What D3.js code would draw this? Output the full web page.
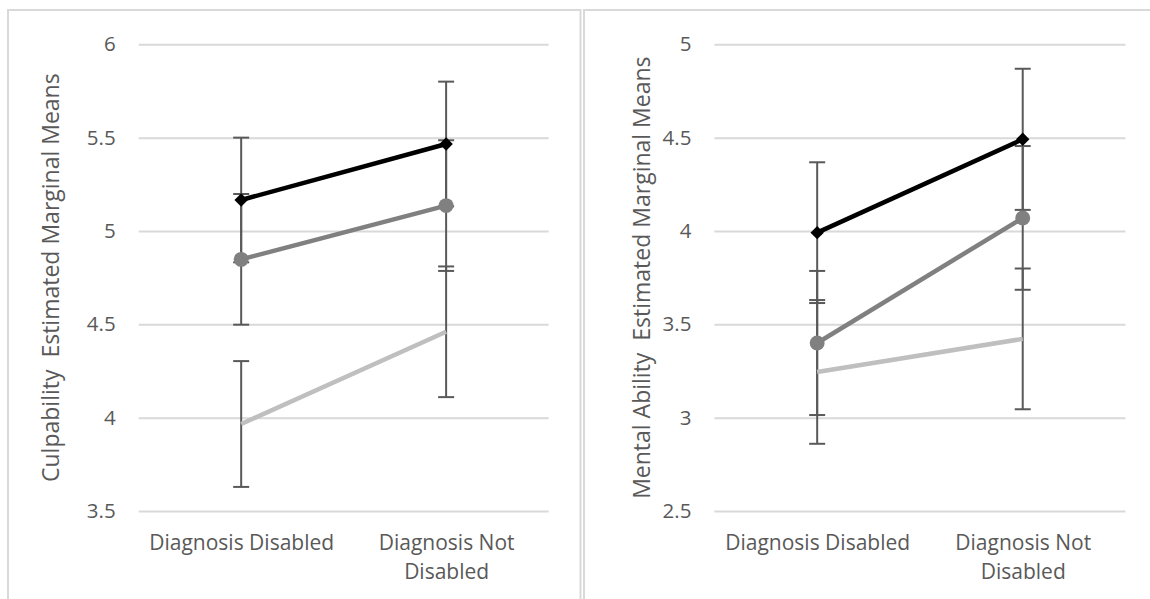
<!DOCTYPE html>
<html>
<head>
<meta charset="utf-8">
<script src="https://cdn.jsdelivr.net/npm/d3@7"></script>
<style>
  body { margin: 0; background: #fff; }
  text { font-family: "Open Sans", sans-serif; fill: #595959; }
</style>
</head>
<body>
<div id="chart"></div>
<script>
let categories = ["Diagnosis Disabled", "Diagnosis Not Disabled"];

// culpability panel
let culpTicks = [3.5, 4, 4.5, 5, 5.5, 6];
let culpBlack = [5.166, 5.466];
let culpBlackErr = [0.334, 0.334];
let culpGray = [4.848, 5.136];
let culpGrayErr = [0.35, 0.35];
let culpLight = [3.966, 4.46];
let culpLightErr = [0.337, 0.35];

// mental ability panel
let mentalTicks = [2.5, 3, 3.5, 4, 4.5, 5];
let mentalBlack = [3.991, 4.491];
let mentalBlackErr = [0.377, 0.378];
let mentalGray = [3.40, 4.07];
let mentalGrayErr = [0.386, 0.385];
let mentalLight = [3.245, 3.422];
let mentalLightErr = [0.385, 0.377];

let width = 1150;
let height = 599;

let svg = d3.select("#chart")
    .append("svg")
    .attr("width", width)
    .attr("height", height);

svg.append("rect").attr("width", width).attr("height", height).attr("fill", "#fff");

function drawPanel(p) {
    let g = svg.append("g");

    // panel border
    g.append("rect")
        .attr("x", p.boxX)
        .attr("y", 10)
        .attr("width", p.boxW)
        .attr("height", 700)
        .attr("fill", "none")
        .attr("stroke", "#d9d9d9")
        .attr("stroke-width", 2);

    let y = d3.scaleLinear()
        .domain(d3.extent(p.ticks))
        .range([511, 44.3]);

    let x = d3.scalePoint()
        .domain(categories)
        .range([p.left, p.right])
        .padding(0.5);

    let yAxis = g.append("g")
        .attr("transform", "translate(" + p.left + ",0)")
        .call(d3.axisLeft(y)
            .tickValues(p.ticks)
            .tickFormat(d3.format("~g"))
            .tickSize(-(p.right - p.left))
            .tickPadding(23));
    yAxis.select(".domain").remove();
    yAxis.selectAll(".tick line")
        .attr("stroke", "#d9d9d9")
        .attr("stroke-width", 2);
    yAxis.selectAll(".tick text")
        .style("font-size", "20.5px")
        .attr("fill", "#595959");

    let xAxis = g.append("g")
        .attr("transform", "translate(0,511)")
        .call(d3.axisBottom(x).tickSize(0).tickPadding(0));
    xAxis.select(".domain").remove();
    xAxis.selectAll(".tick text")
        .style("font-size", "21px")
        .attr("fill", "#595959")
        .each(function(d) {
            let t = d3.select(this);
            let words = d.split(" ");
            t.text(null);
            let line = [];
            let lines = [];
            let probe = t.append("tspan");
            words.forEach(function(w) {
                line.push(w);
                probe.text(line.join(" "));
                if (probe.node().getComputedTextLength() > 200 && line.length > 1) {
                    line.pop();
                    lines.push(line.join(" "));
                    line = [w];
                }
            });
            lines.push(line.join(" "));
            probe.remove();
            lines.forEach(function(l, i) {
                t.append("tspan")
                    .attr("x", 0)
                    .attr("y", 39 + i * 29)
                    .attr("dy", 0)
                    .text(l);
            });
        });

    // axis title
    g.append("text")
        .attr("transform", "translate(" + p.titleX + "," + ((511 + 44.3) / 2) + ") rotate(-90)")
        .attr("text-anchor", "middle")
        .style("font-size", "23px")
        .style("white-space", "pre")
        .attr("fill", "#595959")
        .text(p.title);

    let series = [
        { values: p.black, err: p.blackErr, color: "#000000", marker: "diamond" },
        { values: p.gray, err: p.grayErr, color: "#808080", marker: "circle" },
        { values: p.light, err: p.lightErr, color: "#bfbfbf", marker: null }
    ];

    // error bars
    series.forEach(function(s) {
        let eb = g.append("g").selectAll("g")
            .data(s.values.map(function(v, i) { return { cat: categories[i], v: v, e: s.err[i] }; }))
            .enter().append("g")
            .attr("stroke", "#595959")
            .attr("stroke-width", 2);
        eb.append("line")
            .attr("x1", function(d) { return x(d.cat); })
            .attr("x2", function(d) { return x(d.cat); })
            .attr("y1", function(d) { return y(d.v + d.e); })
            .attr("y2", function(d) { return y(d.v - d.e); });
        [1, -1].forEach(function(sign) {
            eb.append("line")
                .attr("x1", function(d) { return x(d.cat) - 8; })
                .attr("x2", function(d) { return x(d.cat) + 8; })
                .attr("y1", function(d) { return y(d.v + sign * d.e); })
                .attr("y2", function(d) { return y(d.v + sign * d.e); });
        });
    });

    let line = d3.line()
        .x(function(d, i) { return x(categories[i]); })
        .y(function(d) { return y(d); });

    series.forEach(function(s) {
        g.append("path")
            .datum(s.values)
            .attr("d", line)
            .attr("fill", "none")
            .attr("stroke", s.color)
            .attr("stroke-width", 4.5);
    });

    series.forEach(function(s) {
        if (!s.marker) return;
        let sym = s.marker === "diamond"
            ? d3.symbol().type(d3.symbolSquare).size(90)
            : d3.symbol().type(d3.symbolCircle).size(175);
        g.append("g").selectAll("path")
            .data(s.values)
            .enter().append("path")
            .attr("d", sym)
            .attr("fill", s.color)
            .attr("transform", function(d, i) {
                return "translate(" + x(categories[i]) + "," + y(d) + ")" +
                    (s.marker === "diamond" ? " rotate(45)" : "");
            });
    });
}

drawPanel({
    boxX: 8, boxW: 572.5, left: 138.7, right: 548.6, titleX: 59,
    ticks: culpTicks, title: "Culpability  Estimated Marginal Means",
    black: culpBlack, blackErr: culpBlackErr,
    gray: culpGray, grayErr: culpGrayErr,
    light: culpLight, lightErr: culpLightErr
});

drawPanel({
    boxX: 584, boxW: 600, left: 714.4, right: 1125.5, titleX: 650,
    ticks: mentalTicks, title: "Mental Ability  Estimated Marginal Means",
    black: mentalBlack, blackErr: mentalBlackErr,
    gray: mentalGray, grayErr: mentalGrayErr,
    light: mentalLight, lightErr: mentalLightErr
});
</script>
</body>
</html>
